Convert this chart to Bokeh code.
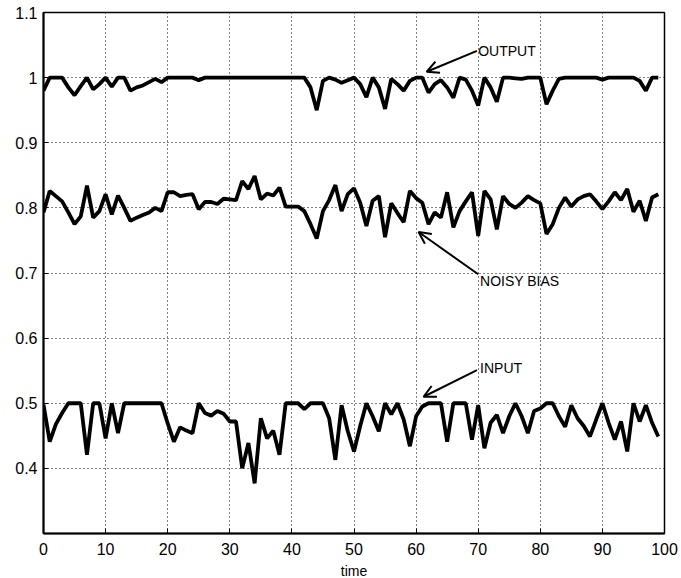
from bokeh.plotting import figure
from bokeh.models import Range1d, FixedTicker, Arrow, OpenHead, Label
from bokeh.embed import file_html
from bokeh.resources import INLINE

time = list(range(100))

output = [0.98, 1.0, 1.0, 1.0, 0.985, 0.973, 0.987, 1.0, 0.982, 0.99,
          1.0, 0.986, 1.0, 1.0, 0.98, 0.985, 0.988, 0.993, 0.998, 0.993,
          1.0, 1.0, 1.0, 1.0, 1.0, 0.996, 1.0, 1.0, 1.0, 1.0,
          1.0, 1.0, 1.0, 1.0, 1.0, 1.0, 1.0, 1.0, 1.0, 1.0,
          1.0, 1.0, 1.0, 0.985, 0.95, 0.995, 1.0, 0.997, 0.992, 0.996,
          1.0, 0.99, 0.97, 1.0, 0.985, 0.952, 0.998, 0.99, 0.98, 0.995,
          1.0, 1.0, 0.977, 0.99, 0.996, 0.985, 0.969, 1.0, 0.997, 0.98,
          0.957, 1.0, 0.985, 0.963, 1.0, 1.0, 0.999, 0.998, 1.0, 1.0,
          1.0, 0.959, 0.98, 0.998, 1.0, 1.0, 1.0, 1.0, 1.0, 1.0,
          0.997, 1.0, 1.0, 1.0, 1.0, 1.0, 0.995, 0.98, 1.0, 1.0]

noisy_bias = [0.793, 0.826, 0.818, 0.810, 0.793, 0.775, 0.787, 0.834, 0.785, 0.795,
              0.821, 0.790, 0.819, 0.800, 0.780, 0.785, 0.789, 0.793, 0.800, 0.795,
              0.824, 0.824, 0.818, 0.820, 0.821, 0.798, 0.809, 0.809, 0.806, 0.814,
              0.813, 0.812, 0.841, 0.829, 0.849, 0.813, 0.822, 0.819, 0.831, 0.802,
              0.802, 0.802, 0.795, 0.775, 0.753, 0.795, 0.812, 0.835, 0.795, 0.821,
              0.830, 0.808, 0.772, 0.811, 0.818, 0.755, 0.807, 0.792, 0.778, 0.826,
              0.815, 0.808, 0.775, 0.793, 0.785, 0.824, 0.770, 0.795, 0.810, 0.824,
              0.757, 0.826, 0.813, 0.767, 0.818, 0.806, 0.800, 0.808, 0.818, 0.812,
              0.807, 0.760, 0.775, 0.800, 0.816, 0.802, 0.813, 0.818, 0.821, 0.810,
              0.798, 0.810, 0.824, 0.812, 0.829, 0.794, 0.811, 0.780, 0.816, 0.821]

input_sig = [0.498, 0.441, 0.468, 0.485, 0.5, 0.5, 0.5, 0.421, 0.5, 0.5,
             0.446, 0.5, 0.454, 0.5, 0.5, 0.5, 0.5, 0.5, 0.5, 0.5,
             0.469, 0.441, 0.463, 0.458, 0.454, 0.5, 0.485, 0.481, 0.488, 0.484,
             0.472, 0.472, 0.400, 0.439, 0.377, 0.477, 0.446, 0.458, 0.421, 0.5,
             0.5, 0.5, 0.491, 0.5, 0.5, 0.5, 0.477, 0.413, 0.497, 0.457,
             0.426, 0.465, 0.5, 0.48, 0.457, 0.5, 0.483, 0.5, 0.475, 0.434,
             0.480, 0.495, 0.5, 0.5, 0.5, 0.441, 0.5, 0.5, 0.5, 0.444,
             0.497, 0.431, 0.47, 0.482, 0.454, 0.48, 0.5, 0.48, 0.454, 0.488,
             0.492, 0.5, 0.5, 0.48, 0.464, 0.497, 0.477, 0.465, 0.449, 0.475,
             0.5, 0.47, 0.444, 0.472, 0.426, 0.5, 0.472, 0.497, 0.47, 0.449]

x_ticks = [0, 10, 20, 30, 40, 50, 60, 70, 80, 90, 100]
y_ticks = [0.4, 0.5, 0.6, 0.7, 0.8, 0.9, 1.0, 1.1]
y_tick_labels = ["0.4", "0.5", "0.6", "0.7", "0.8", "0.9", "1", "1.1"]

# annotations: text, text position, arrow tail, arrow tip
annotations = [
    ("OUTPUT", (70.0, 1.041), (69.8, 1.041), (61.7, 1.009)),
    ("NOISY BIAS", (70.3, 0.687), (70.0, 0.698), (60.4, 0.763)),
    ("INPUT", (70.3, 0.554), (69.8, 0.551), (61.2, 0.510)),
]

FONT = "Liberation Sans"

p = figure(frame_width=621, frame_height=521,
           min_border_left=43, min_border_right=17, min_border_top=12, min_border_bottom=20,
           x_range=Range1d(0, 100), y_range=Range1d(0.3, 1.1),
           output_backend="svg", toolbar_location=None,
           background_fill_color="white", border_fill_color="white")

for series in (output, noisy_bias, input_sig):
    p.line(time, series, line_color="black", line_width=3.8)

p.xaxis.ticker = FixedTicker(ticks=x_ticks)
p.yaxis.ticker = FixedTicker(ticks=y_ticks)
p.yaxis.major_label_overrides = {v: s for v, s in zip(y_ticks, y_tick_labels)}
p.xaxis.axis_label = "time"

for ax in (p.xaxis[0], p.yaxis[0]):
    ax.axis_line_color = "black"
    ax.axis_line_width = 2
    ax.major_tick_in = 5
    ax.major_tick_out = 0
    ax.minor_tick_in = 0
    ax.minor_tick_out = 0
    ax.major_tick_line_color = "black"
    ax.major_label_text_font = FONT
    ax.major_label_text_font_size = "16px"
    ax.major_label_text_color = "black"
    ax.major_label_standoff = 6
    ax.axis_label_text_font = FONT
    ax.axis_label_text_font_size = "14px"
    ax.axis_label_text_font_style = "normal"
    ax.axis_label_text_color = "black"
    ax.axis_label_standoff = 5

p.xaxis[0].major_label_standoff = 9

for g in (p.xgrid[0], p.ygrid[0]):
    g.grid_line_color = "black"
    g.grid_line_dash = "1 3"
    g.grid_line_width = 1

p.outline_line_color = "black"
p.outline_line_width = 1.5
p.outline_line_alpha = 1.0

for text, (tx, ty), (x0, y0), (x1, y1) in annotations:
    p.add_layout(Arrow(end=OpenHead(size=12, line_width=2, line_color="black"),
                       x_start=x0, y_start=y0, x_end=x1, y_end=y1,
                       line_width=2, line_color="black"))
    p.add_layout(Label(x=tx, y=ty, text=text, text_font=FONT, text_font_size="14px",
                       text_baseline="middle", text_align="left", text_color="black"))

open("out.html", "w").write(file_html(p, INLINE))
